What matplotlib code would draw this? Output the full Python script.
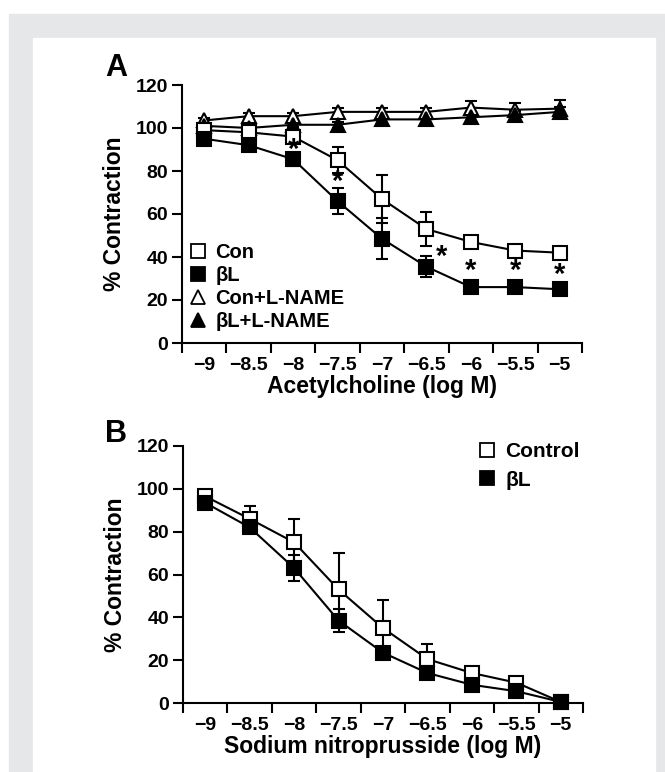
import matplotlib.pyplot as plt
from matplotlib.patches import Rectangle
from matplotlib.lines import Line2D

plt.rcParams['font.family'] = ['Liberation Sans', 'DejaVu Sans']
plt.rcParams['font.weight'] = 'bold'

# log dose, shared by both panels
dose = [-9, -8.5, -8, -7.5, -7, -6.5, -6, -5.5, -5]
dose_labels = ['−9', '−8.5', '−8', '−7.5', '−7', '−6.5', '−6', '−5.5', '−5']
tick_edges = [-9.25, -8.75, -8.25, -7.75, -7.25, -6.75, -6.25, -5.75, -5.25, -4.75]

# panel A: acetylcholine
con_mean = [99, 98, 96, 85, 67, 53, 47, 43, 42]
con_err = [1, 1, 2, 6, 11, 8, 3, 1.5, 1]
bl_mean = [95, 92, 85.5, 66, 48.5, 35.5, 26, 26, 25]
bl_err = [1, 2, 3, 6, 9.5, 5, 2, 1.5, 1.5]
con_lname_mean = [103.5, 105.5, 105.5, 107.5, 107.5, 107.5, 109.5, 108.5, 109]
con_lname_err = [1, 1.5, 1.5, 2, 2, 2, 3, 3, 4]
bl_lname_mean = [101, 100, 101.5, 101.5, 104, 104, 105, 106, 107.5]
bl_lname_err = [1, 1, 1, 1.5, 1.5, 1.5, 2, 2, 2.5]
star_x = [-8, -7.5, -6.33, -6, -5.5, -5]
star_y = [90, 75, 40, 33.5, 33.5, 31.5]

# panel B: sodium nitroprusside
ctrl_mean = [96.5, 86, 75, 53, 35, 20.5, 14, 9.5, 0.5]
ctrl_err = [1, 6, 11, 17, 13, 7, 3, 1.5, 0]
blb_mean = [93.5, 82, 63, 38.5, 23.5, 14, 8.5, 5.5, 0.5]
blb_err = [1, 2, 6, 5.5, 2, 2, 1.5, 1, 0]

W, H = 665, 772
fig = plt.figure(figsize=(W / 100, H / 100), dpi=100)
fig.patches.append(Rectangle((9 / W, 0), 1, (H - 14) / H, transform=fig.transFigure,
                             color='#e6e7e8', zorder=-2))
fig.patches.append(Rectangle((33 / W, 0), (655 - 33) / W, (H - 38) / H, transform=fig.transFigure,
                             color='white', zorder=-1))


def style(ax, xlabel):
    ax.set_xlim(-9.25, -4.75)
    ax.set_ylim(0, 120)
    ax.set_facecolor('none')
    for s in ['top', 'right']:
        ax.spines[s].set_visible(False)
    for s in ['left', 'bottom']:
        ax.spines[s].set_linewidth(1.5)
    ax.set_yticks(range(0, 121, 20))
    ax.set_xticks(tick_edges)
    ax.set_xticklabels([])
    ax.set_xticks(dose, minor=True)
    ax.set_xticklabels(dose_labels, minor=True)
    ax.tick_params(axis='x', which='major', direction='out', length=7, width=1.5)
    ax.tick_params(axis='x', which='minor', length=0, pad=10, labelsize=14)
    ax.tick_params(axis='y', direction='out', length=7, width=1.5, labelsize=14, pad=3)
    for lab in ax.get_xticklabels(minor=True) + ax.get_yticklabels():
        lab.set_fontweight('bold')
    ax.set_xlabel(xlabel, fontsize=16.5, fontweight='bold', labelpad=1)
    ax.set_ylabel('% Contraction', fontsize=16.5, fontweight='bold', labelpad=7)


kw = dict(color='k', mec='k', ms=10.5, mew=1.5, lw=1.5, elinewidth=1.5,
          capsize=4, capthick=1.5, clip_on=False)

axA = fig.add_axes([182 / W, 1 - 343 / H, 400 / W, 258 / H])
style(axA, 'Acetylcholine (log M)')
axA.errorbar(dose, con_lname_mean, yerr=con_lname_err, fmt='-^', mfc='white', **kw)
axA.errorbar(dose, bl_lname_mean, yerr=bl_lname_err, fmt='-^', mfc='k', **kw)
axA.errorbar(dose, con_mean, yerr=con_err, fmt='-s', mfc='white', **kw)
axA.errorbar(dose, bl_mean, yerr=bl_err, fmt='-s', mfc='k', **kw)
for x, y in zip(star_x, star_y):
    axA.text(x, y, '*', ha='center', va='center', fontsize=21, fontweight='bold')

handlesA = [
    Line2D([], [], ls='none', marker='s', ms=10.5, mfc='white', mec='k', mew=1.3),
    Line2D([], [], ls='none', marker='s', ms=10.5, mfc='k', mec='k', mew=1.3),
    Line2D([], [], ls='none', marker='^', ms=10.5, mfc='white', mec='k', mew=1.3),
    Line2D([], [], ls='none', marker='^', ms=10.5, mfc='k', mec='k', mew=1.3),
]
axA.legend(handlesA, ['Con', 'βL', 'Con+L-NAME', 'βL+L-NAME'], loc='lower left',
           bbox_to_anchor=(0.015, 0.045), frameon=False, handlelength=1,
           handletextpad=0.35, labelspacing=0.2, borderpad=0, borderaxespad=0,
           prop={'weight': 'bold', 'size': 14.5})

axB = fig.add_axes([183 / W, 1 - 703 / H, 400 / W, 257 / H])
style(axB, 'Sodium nitroprusside (log M)')
axB.errorbar(dose, ctrl_mean, yerr=ctrl_err, fmt='-s', mfc='white', **kw)
axB.errorbar(dose, blb_mean, yerr=blb_err, fmt='-s', mfc='k', **kw)
handlesB = handlesA[:2]
axB.legend(handlesB, ['Control', 'βL'], loc='upper left',
           bbox_to_anchor=(0.735, 1.015), frameon=False, handlelength=1,
           handletextpad=0.35, labelspacing=0.45, borderpad=0, borderaxespad=0,
           prop={'weight': 'bold', 'size': 15})

fig.text(105 / W, 1 - 68 / H, 'A', fontsize=22, fontweight='bold', va='center')
fig.text(105 / W, 1 - 434 / H, 'B', fontsize=22, fontweight='bold', va='center')

fig.savefig('out.png', dpi=100)
